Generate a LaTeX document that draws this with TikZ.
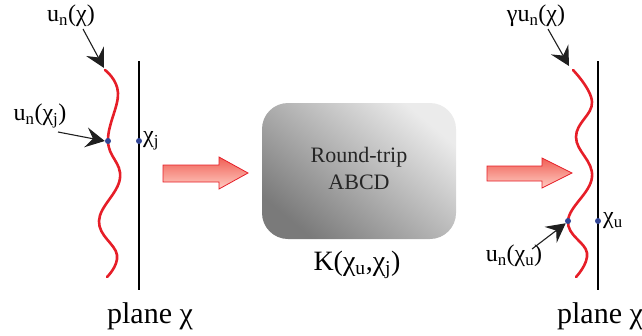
\documentclass[tikz,border=0pt]{standalone}
\usepackage{fontspec}
\setmainfont{Liberation Serif}
\usetikzlibrary{arrows.meta}
\definecolor{curvered}{RGB}{230,30,40}
\definecolor{dotblue}{RGB}{50,70,150}
\definecolor{arrdark}{RGB}{240,95,85}
\definecolor{arrlight}{RGB}{255,205,195}
\tikzset{
  wave/.style={curvered, line width=2.6pt, line cap=round},
  plane/.style={black, line width=2.8pt},
  bdot/.style={circle, fill=dotblue, inner sep=0pt, minimum size=6pt},
  lbl/.style={inner sep=1pt, font=\fontsize{24}{26}\selectfont},
  ptr/.style={-{Stealth[length=19pt,width=20pt,inset=7pt]}, line width=1.1pt, black!88},
  bigarrow/.style={draw=curvered, line width=0.8pt, top color=arrdark, bottom color=arrlight},
}
\begin{document}
\begin{tikzpicture}[x=1pt,y=-1pt]
\useasboundingbox (0,0) rectangle (642,335);
% ---- left plane
\draw[plane] (139,61) -- (139,290);
\draw[wave] plot[smooth, tension=0.7] coordinates {(105,70) (118,93) (108,141) (120,178) (99,221) (117,255) (107,277)};
\coordinate (ltop) at (104,68);
\node[bdot] (ludot) at (108,141) {};
\node[bdot] (lpdot) at (139,141) {};
\node[lbl, anchor=west] (lchij) at (142,141) {χ\textsubscript{j}};
\node[lbl] (lun) at (71,16) {u\textsubscript{n}(χ)};
\node[lbl] (lunj) at (40,116) {u\textsubscript{n}(χ\textsubscript{j})};
\draw[ptr] (83,29) -- (ltop);
\draw[ptr] (58,132) -- (ludot.west);
\node[font=\fontsize{30}{32}\selectfont] (lplane) at (150,316) {plane χ};
% ---- big arrows
\draw[bigarrow] (163,165) -- (219,165) -- (219,157) -- (248,173) -- (219,189) -- (219,182) -- (163,182) -- cycle;
\draw[bigarrow] (487,166) -- (542,166) -- (542,158) -- (572,173) -- (542,188) -- (542,181) -- (487,181) -- cycle;
% ---- box
\shade[rounded corners=26pt, left color=black!8, right color=black!52, shading angle=-40]
  (262,103) rectangle (456,239);
\node[font=\fontsize{22}{27}\selectfont, align=center, text=black!85] (box) at (359,168) {Round-trip\\ABCD};
\node[font=\fontsize{28}{30}\selectfont] (klbl) at (357,265) {K(χ\textsubscript{u},χ\textsubscript{j})};
% ---- right plane
\draw[plane] (598,61) -- (598,290);
\draw[wave] plot[smooth, tension=0.7] coordinates {(573,70) (592,102) (576,137) (592,177) (568,221) (587,253) (576,277)};
\coordinate (rtop) at (569,66);
\node[bdot] (rudot) at (568,221) {};
\node[bdot] (rpdot) at (598,221) {};
\node[lbl, anchor=west] (rchiu) at (602,221) {χ\textsubscript{u}};
\node[lbl] (rgun) at (536,16) {γu\textsubscript{n}(χ)};
\node[lbl] (runu) at (514,256) {u\textsubscript{n}(χ\textsubscript{u})};
\draw[ptr] (548,29) -- (rtop);
\draw[ptr] (532,249) -- (rudot.south west);
\node[font=\fontsize{30}{32}\selectfont] (rplane) at (600,316) {plane χ};
\end{tikzpicture}
\end{document}
